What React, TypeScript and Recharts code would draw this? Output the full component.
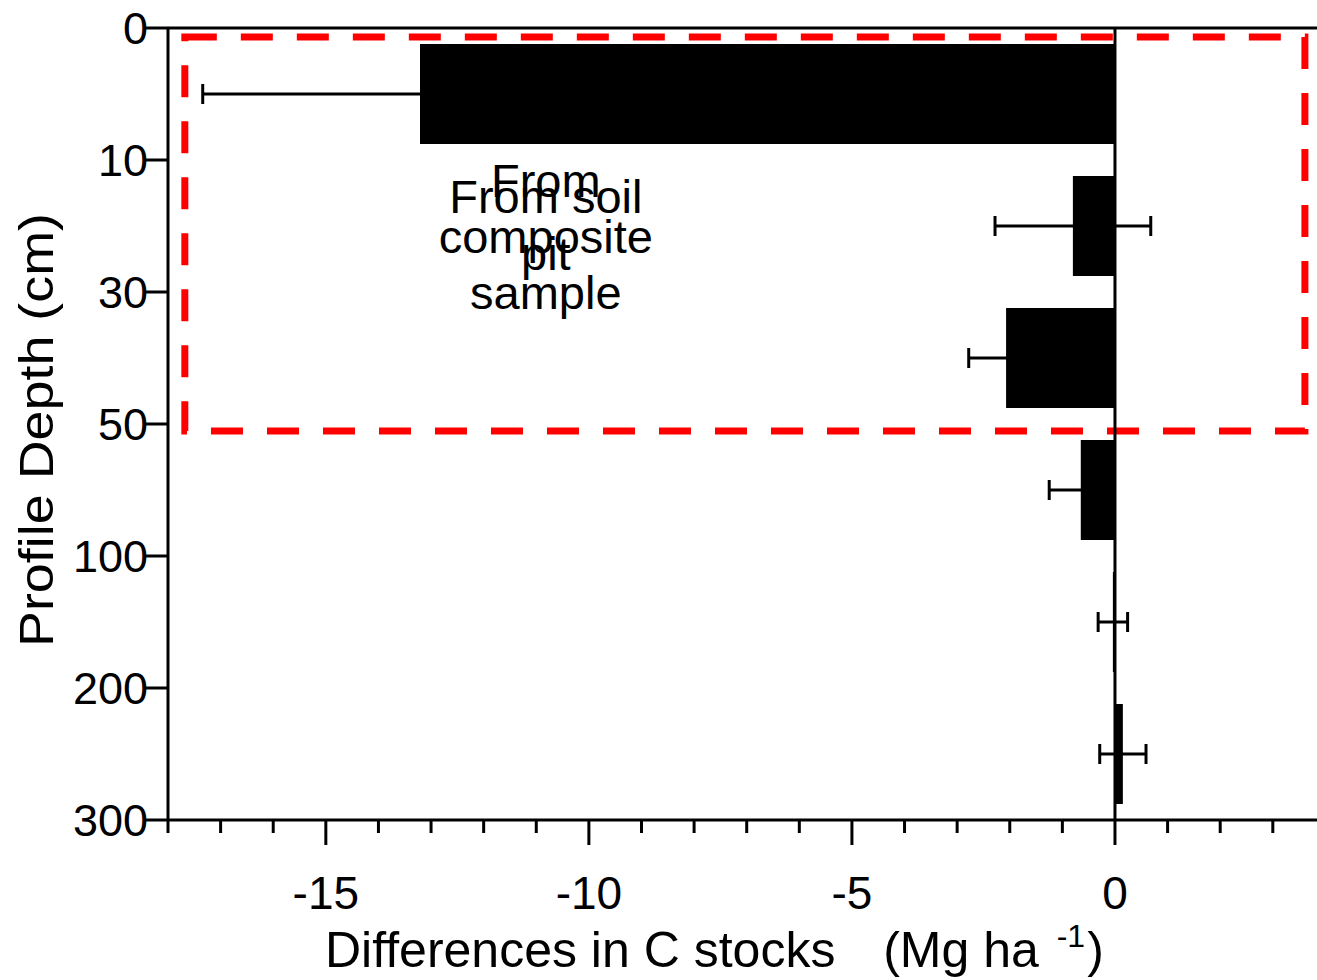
import React from 'react';
import {
  BarChart,
  Bar,
  XAxis,
  YAxis,
  ErrorBar,
  ReferenceArea,
  ReferenceLine,
  Label,
} from 'recharts';

// Soil depth layers and the change in carbon stock for each one
const depthLayers = ['0-10', '10-30', '30-50', '50-100', '100-200', '200-300'];
const depthBoundaries = ['0', '10', '30', '50', '100', '200', '300'];
const stockDiff = [-13.21, -0.8, -2.07, -0.65, -0.04, 0.15];
const stockErr = [4.13, 1.48, 0.71, 0.6, 0.28, 0.44];

// every unit gets a tick, only multiples of five get a label
const xTicks = [-18, -17, -16, -15, -14, -13, -12, -11, -10, -9, -8, -7, -6, -5, -4, -3, -2, -1, 0, 1, 2, 3];
const labelledTicks = [-15, -10, -5, 0];
const boundaryTicks = [0, 1, 2, 3, 4, 5, 6];

const FONT = '"Liberation Sans", Arial, sans-serif';

const data = depthLayers.map((depth, i) => ({
  depth,
  layerMid: i + 0.5,
  diff: stockDiff[i],
  err: stockErr[i],
}));

const XTick = (props: any) => {
  const { x, y, payload } = props;
  const major = labelledTicks.includes(payload.value);
  return (
    <g>
      <line x1={x} x2={x} y1={y} y2={y + (major ? 25 : 13)} stroke="#000" strokeWidth={3} />
      {major && (
        <text x={x} y={y + 89} textAnchor="middle" fontSize={46} fontFamily={FONT} fill="#000">
          {payload.value}
        </text>
      )}
    </g>
  );
};

const DepthTick = (props: any) => {
  const { x, y, payload } = props;
  return (
    <g>
      <line x1={x - 25} x2={x} y1={y} y2={y} stroke="#000" strokeWidth={3} />
      <text x={x - 20} y={y + 16} textAnchor="end" fontSize={45} fontFamily={FONT} fill="#000">
        {depthBoundaries[payload.value]}
      </text>
    </g>
  );
};

const XTitle = (props: any) => {
  const { viewBox } = props;
  return (
    <text
      x={viewBox.x + 157}
      y={viewBox.y + 147}
      fontSize={50}
      fontFamily={FONT}
      fill="#000"
      style={{ whiteSpace: 'pre' }}
    >
      <tspan>{'Differences in C stocks  '}</tspan>
      <tspan dx={20}>{'(Mg ha '}</tspan>
      <tspan fontSize={32} dx={4} dy={-20}>-1</tspan>
      <tspan dx={2} dy={20}>)</tspan>
    </text>
  );
};

const YTitle = (props: any) => {
  const { viewBox } = props;
  const cx = viewBox.x + 53;
  const cy = viewBox.y + viewBox.height / 2 + 6;
  return (
    <text
      x={cx}
      y={cy}
      transform={`rotate(-90, ${cx}, ${cy})`}
      textAnchor="middle"
      fontSize={48}
      fontFamily={FONT}
      fill="#000"
      textLength={434}
      lengthAdjust="spacingAndGlyphs"
    >
      Profile Depth (cm)
    </text>
  );
};

// two overlapping captions sit inside the dashed box
const SampleNotes = (props: any) => {
  const { viewBox } = props;
  const cx = viewBox.x + 361;
  const top = viewBox.y;
  const style = { fontSize: 47, fontFamily: FONT, fill: '#000' };
  return (
    <g>
      <text x={cx} y={top + 160} textAnchor="middle" {...style}>
        <tspan x={cx}>From</tspan>
        <tspan x={cx} dy={56}>composite</tspan>
        <tspan x={cx} dy={56}>sample</tspan>
      </text>
      <text x={cx} y={top + 176} textAnchor="middle" {...style}>
        <tspan x={cx}>From soil</tspan>
        <tspan x={cx} dy={57}>pit</tspan>
      </text>
    </g>
  );
};

export default function App() {
  return (
    <div style={{ position: 'absolute', left: 0, top: 0, background: '#fff' }}>
      <BarChart
        width={1317}
        height={980}
        data={data}
        layout="vertical"
        margin={{ top: 28, right: 0, bottom: 0, left: 0 }}
        barSize={100}
      >
        <XAxis
          type="number"
          domain={[-18, 3.84]}
          allowDataOverflow
          ticks={xTicks}
          interval={0}
          tickSize={0}
          tickMargin={0}
          tick={<XTick />}
          tickLine={false}
          axisLine={{ stroke: '#000', strokeWidth: 3 }}
          height={160}
        >
          <Label content={<XTitle />} />
        </XAxis>
        <YAxis yAxisId="layer" type="category" dataKey="depth" hide />
        <YAxis
          yAxisId="depth"
          type="number"
          dataKey="layerMid"
          domain={[0, 6]}
          allowDataOverflow
          ticks={boundaryTicks}
          interval={0}
          tickSize={0}
          tickMargin={0}
          tick={<DepthTick />}
          tickLine={false}
          axisLine={{ stroke: '#000', strokeWidth: 3 }}
          width={168}
        >
          <Label content={<YTitle />} />
        </YAxis>
        <ReferenceLine yAxisId="depth" y={0} stroke="#000" strokeWidth={3} />
        <Bar yAxisId="layer" dataKey="diff" fill="#000" isAnimationActive={false}>
          <ErrorBar dataKey="err" direction="x" width={10} stroke="#000" strokeWidth={3} />
        </Bar>
        <ReferenceLine yAxisId="depth" x={0} stroke="#000" strokeWidth={3} />
        <ReferenceArea
          yAxisId="depth"
          x1={-17.68}
          x2={3.61}
          y1={0.068}
          y2={3.053}
          fill="none"
          fillOpacity={0}
          stroke="#ff0000"
          strokeWidth={7}
          strokeDasharray="32 24"
          label={<SampleNotes />}
        />
      </BarChart>
    </div>
  );
}
